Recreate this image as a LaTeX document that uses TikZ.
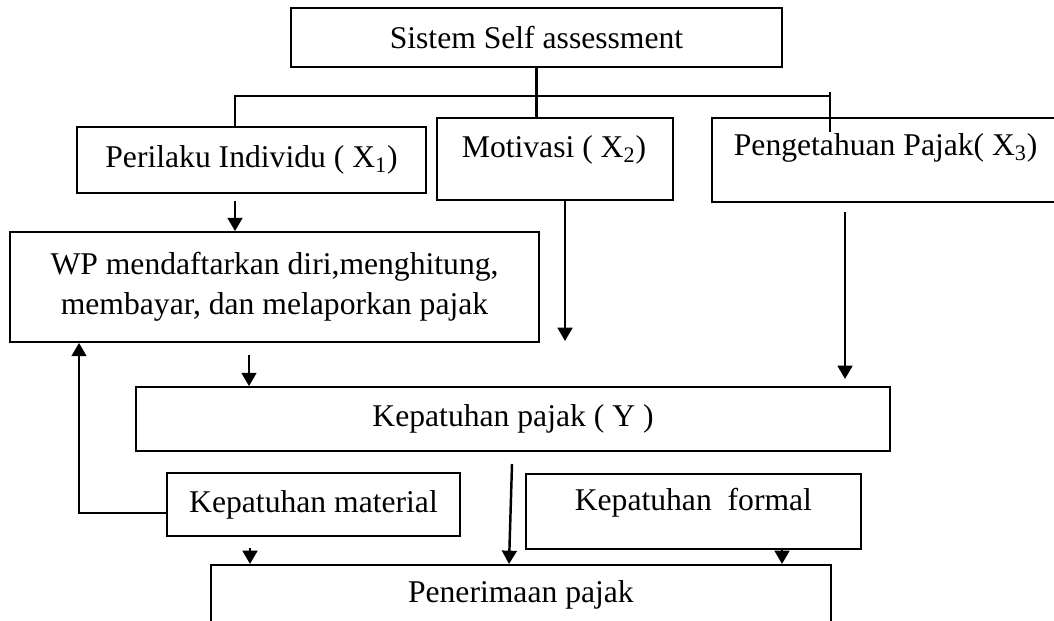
\documentclass[tikz,border=0pt]{standalone}
\usepackage{fontspec}
\setmainfont{Liberation Serif}
\usepackage{tikz}
\usetikzlibrary{calc}
\usetikzlibrary{arrows.meta}

\begin{document}
\begin{tikzpicture}[>={Triangle[length=7.6pt,width=8.4pt]}, line width=1pt,
		box/.style={rectangle, draw=black!100, inner sep=0pt},
		lbl/.style={inner sep=0pt},
		arr/.style={->, line width=1.4pt},
		every node/.style={font=\fontsize{18}{22.7}\selectfont}]
			%frame
			\useasboundingbox (0,0) rectangle (21.08,-12.4);
			\clip (0,0) rectangle (21.08,-12.4);
			%top box
			\node at (10.73,-0.75) (sys) [box, minimum width=9.82cm, minimum height=1.18cm] {Sistem Self assessment};

			%variables
			\node at (5.03,-3.2) (ind) [box, minimum width=6.98cm, minimum height=1.32cm] {Perilaku Individu ( X\textsubscript{1})};
			\node [anchor=north west] at (8.72,-2.34) (mot) [box, minimum width=4.72cm, minimum height=1.64cm] {};
			\node [anchor=west] at ($(mot.north west) + (0.5cm,-0.66cm)$) (motlbl) [lbl] {Motivasi ( X\textsubscript{2})};
			\node [anchor=north west] at (14.22,-2.34) (pen) [box, minimum width=7.4cm, minimum height=1.68cm] {};
			\node [anchor=west] at ($(pen.north west) + (0.44cm,-0.62cm)$) (penlbl) [lbl] {Pengetahuan Pajak( X\textsubscript{3})};

			%wp box
			\node at (5.49,-5.74) (wp) [box, minimum width=10.58cm, minimum height=2.2cm, align=center] {WP mendaftarkan diri,menghitung,\\membayar, dan melaporkan pajak};

			%kepatuhan
			\node at (10.26,-8.38) (kep) [box, minimum width=15.08cm, minimum height=1.28cm] {Kepatuhan pajak ( Y )};
			\node at (6.27,-10.09) (mat) [box, minimum width=5.86cm, minimum height=1.26cm] {Kepatuhan material};
			\node [anchor=north west] at (10.5,-9.46) (frm) [box, minimum width=6.7cm, minimum height=1.5cm] {};
			\node at ($(frm.north) + (0cm,-0.6cm)$) (frmlbl) [lbl] {Kepatuhan\ \ formal};

			%penerimaan
			\node [anchor=north west] at (4.2,-11.28) (rec) [box, minimum width=12.4cm, minimum height=2cm] {};
			\node at ($(rec.north) + (0cm,-0.62cm)$) (reclbl) [lbl] {Penerimaan pajak};

			%points
			\coordinate (busL) at (4.7,-1.92);
			\coordinate (busR) at (16.6,-1.92);
			\coordinate (motend) at (11.3,-6.82);
			\coordinate (penstart) at (16.9,-4.24);
			\coordinate (penend) at (16.9,-7.58);
			\coordinate (kepin) at (4.98,-7.1);
			\coordinate (fb) at (1.58,-10.26);
			\coordinate (kepout) at (10.24,-9.28);
			\coordinate (recin) at (10.18,-11.28);
			\coordinate (matout) at (5,-10.96);
			\coordinate (frmout) at (15.64,-10.96);

			%tree lines
			\draw [line width=1.4pt] (sys.south) -- (sys.south |- mot.north);
			\draw [line width=1.4pt] (busL |- ind.north) -- (busL) -- (busR);
			\draw [line width=1.4pt] ($(busR) + (0cm,0.08cm)$) -- ($(busR) + (0cm,-0.72cm)$);

			%arrows
			\draw [arr] ($(ind.south -| busL) + (0cm,-0.14cm)$) -- (wp.north -| busL);
			\draw [arr] (mot.south -| motend) -- (motend);
			\draw [arr] (penstart) -- (penend);
			\draw [arr] (kepin) -- (kep.north -| kepin);
			\draw [arr] (mat.west |- fb) -- (fb) -- (wp.south -| fb);
			\draw [arr] (kepout) -- (recin);
			\draw [arr] (matout) -- (rec.north -| matout);
			\draw [arr] (frmout) -- (rec.north -| frmout);
		\end{tikzpicture}
\end{document}
